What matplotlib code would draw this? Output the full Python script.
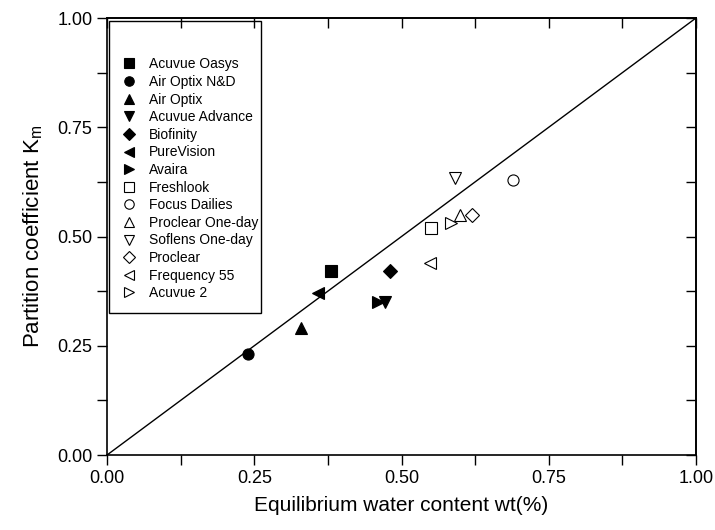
import numpy as np
import matplotlib
matplotlib.use("Agg")
from matplotlib import pyplot as plt
from matplotlib.patches import Rectangle
from matplotlib.ticker import MultipleLocator, FormatStrFormatter, NullFormatter

plt.rcParams['font.family'] = ['Liberation Sans', 'DejaVu Sans']

# lens names, markers and fill, and measured values
lenses = ['Acuvue Oasys', 'Air Optix N&D', 'Air Optix', 'Acuvue Advance', 'Biofinity',
          'PureVision', 'Avaira', 'Freshlook', 'Focus Dailies', 'Proclear One-day',
          'Soflens One-day', 'Proclear', 'Frequency 55', 'Acuvue 2']
markers = ['s', 'o', '^', 'v', 'D', '<', '>', 's', 'o', '^', 'v', 'D', '<', '>']
filled = [True] * 7 + [False] * 7
ewc = [0.38, 0.24, 0.33, 0.472, 0.48, 0.358, 0.46, 0.55, 0.69, 0.60, 0.59, 0.62, 0.548, 0.584]
km = [0.42, 0.23, 0.29, 0.35, 0.42, 0.37, 0.35, 0.52, 0.63, 0.55, 0.635, 0.55, 0.44, 0.53]

fig = plt.figure(figsize=(7.15, 5.3), dpi=100)
ax = fig.add_axes([0.1497, 0.1415, 0.8237, 0.8245])

# y = x reference line
ax.plot([0, 1], [0, 1], color='black', lw=1)

for name, m, f, x, y in zip(lenses, markers, filled, ewc, km):
    ms = 7 if m == 'D' else 8
    ax.plot(x, y, linestyle='none', marker=m, markersize=ms,
            markerfacecolor='black' if f else 'white',
            markeredgecolor='black', markeredgewidth=0.8, label=name)

ax.set_xlim(0, 1)
ax.set_ylim(0, 1)
for a in (ax.xaxis, ax.yaxis):
    a.set_major_locator(MultipleLocator(0.25))
    a.set_minor_locator(MultipleLocator(0.125))
    a.set_major_formatter(FormatStrFormatter('%.2f'))

ax.tick_params(which='both', direction='out', length=7, width=1, labelsize=13)
ax.tick_params(axis='x', which='both', pad=4)

# mirrored ticks on top and right point inward
top = ax.secondary_xaxis('top')
right = ax.secondary_yaxis('right')
for sec, a in ((top, top.xaxis), (right, right.yaxis)):
    a.set_major_locator(MultipleLocator(0.25))
    a.set_minor_locator(MultipleLocator(0.125))
    a.set_major_formatter(NullFormatter())
    sec.tick_params(which='both', direction='in', length=7, width=1)
    for sp in sec.spines.values():
        sp.set_linewidth(1.2)
for sp in ax.spines.values():
    sp.set_linewidth(1.2)

ax.set_xlabel('Equilibrium water content wt(%)', fontsize=15, labelpad=6)
ax.set_ylabel('Partition coefficient K$_\\mathregular{m}$', fontsize=16, labelpad=9)

# legend box drawn separately (leaves blank space at top like the original)
box = Rectangle((0.004, 0.325), 0.257, 0.668, transform=ax.transAxes,
                fill=False, edgecolor='black', lw=1, zorder=5)
ax.add_patch(box)
ax.legend(loc='upper left', bbox_to_anchor=(0.019, 0.910), frameon=False,
          fontsize=10, borderpad=0, labelspacing=0.26, handlelength=1.6,
          handletextpad=0.6, borderaxespad=0, markerscale=0.85)

fig.savefig('out.png', dpi=100)
